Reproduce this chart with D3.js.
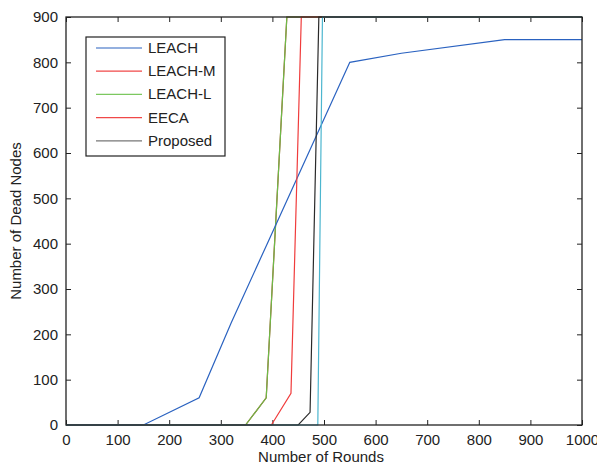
<!DOCTYPE html>
<html>
<head>
<meta charset="utf-8">
<script src="https://cdnjs.cloudflare.com/ajax/libs/d3/7.8.5/d3.min.js"></script>
<style>
  body { margin: 0; background: #fff; }
  svg { display: block; }
  text { font-family: "Liberation Sans", Arial, sans-serif; fill: #222; }
</style>
</head>
<body>
<svg width="597" height="466"></svg>
<script>
// data (rounds, dead nodes)
var leach    = [[0,0],[150,0],[258,60],[320,225],[390,400],[550,800],[650,820],[850,850],[1000,850]];
var leachM   = [[0,0],[348,0],[388,60],[428,900],[1000,900]];
var leachL   = [[0,0],[348,0],[388,60],[428,900],[1000,900]];
var eeca     = [[0,0],[398,0],[436,70],[456,900],[1000,900]];
var proposed = [[0,0],[450,0],[473,28],[490,900],[1000,900]];
var extra    = [[0,0],[488,0],[497,900],[1000,900]];   // cyan line, no legend entry

var xTicks = [0,100,200,300,400,500,600,700,800,900,1000];
var yTicks = [0,100,200,300,400,500,600,700,800,900];

var series = [
  {name: "LEACH-M",  data: leachM,   color: "#c0392b"},
  {name: "LEACH-L",  data: leachL,   color: "#6cbb48"},
  {name: "LEACH",    data: leach,    color: "#2a62c0"},
  {name: "EECA",     data: eeca,     color: "#f03c3c"},
  {name: "Proposed", data: proposed, color: "#2a2a2a"},
  {name: "",         data: extra,    color: "#4cb6cf"}
];
var legendItems = [
  {name: "LEACH",    color: "#2a62c0"},
  {name: "LEACH-M",  color: "#f04848"},
  {name: "LEACH-L",  color: "#7cc860"},
  {name: "EECA",     color: "#f04848"},
  {name: "Proposed", color: "#777"}
];

var svg = d3.select("svg");
var pLeft = 66, pRight = 582, pTop = 17, pBottom = 425;
var fs = "15px";

var x = d3.scaleLinear().domain([0, 1000]).range([pLeft, pRight]);
var y = d3.scaleLinear().domain([0, 900]).range([pBottom, pTop]);

svg.append("defs").append("clipPath").attr("id", "clip")
  .append("rect").attr("x", pLeft).attr("y", pTop - 1)
  .attr("width", pRight - pLeft).attr("height", pBottom - pTop + 2);

// axes, ticks inward
var tickLen = 5;
var fmt = d3.format("d");
var xb = svg.append("g").attr("transform", "translate(0," + pBottom + ")")
  .call(d3.axisBottom(x).tickValues(xTicks).tickFormat(fmt).tickSizeInner(-tickLen).tickSizeOuter(0).tickPadding(9));
var xt = svg.append("g").attr("transform", "translate(0," + pTop + ")")
  .call(d3.axisTop(x).tickValues(xTicks).tickSizeInner(-tickLen).tickSizeOuter(0).tickFormat(""));
var yl = svg.append("g").attr("transform", "translate(" + pLeft + ",0)")
  .call(d3.axisLeft(y).tickValues(yTicks).tickFormat(fmt).tickSizeInner(-tickLen).tickSizeOuter(0).tickPadding(8));
var yr = svg.append("g").attr("transform", "translate(" + pRight + ",0)")
  .call(d3.axisRight(y).tickValues(yTicks).tickSizeInner(-tickLen).tickSizeOuter(0).tickFormat(""));

[xb, xt, yl, yr].forEach(function(g) {
  g.select(".domain").remove();
  g.selectAll(".tick line").attr("stroke", "#222");
  g.selectAll("text").style("font-size", fs).attr("fill", "#222")
    .style("font-family", "'Liberation Sans', Arial, sans-serif");
});

// lines
var line = d3.line().x(function(d) { return x(d[0]); }).y(function(d) { return y(d[1]); });
svg.append("g").attr("clip-path", "url(#clip)")
  .selectAll("path")
  .data(series)
  .enter()
  .append("path")
  .attr("d", function(d) { return line(d.data); })
  .attr("fill", "none")
  .attr("stroke", function(d) { return d.color; })
  .attr("stroke-width", 1.2);

// frame
svg.append("rect")
  .attr("x", pLeft).attr("y", pTop)
  .attr("width", pRight - pLeft).attr("height", pBottom - pTop)
  .attr("fill", "none").attr("stroke", "#222").attr("stroke-width", 1.3);

// axis titles
svg.append("text")
  .attr("x", (pLeft + pRight) / 2 - 3).attr("y", 462)
  .attr("text-anchor", "middle").style("font-size", fs)
  .text("Number of Rounds");
svg.append("text")
  .attr("transform", "translate(21," + ((pTop + pBottom) / 2) + ") rotate(-90)")
  .attr("text-anchor", "middle").style("font-size", fs)
  .text("Number of Dead Nodes");

// legend
var lg = svg.append("g");
lg.append("rect")
  .attr("x", 86).attr("y", 37).attr("width", 139).attr("height", 119)
  .attr("fill", "#fff").attr("stroke", "#222").attr("stroke-width", 1.2);
var li = lg.selectAll(".item")
  .data(legendItems)
  .enter()
  .append("g")
  .attr("class", "item")
  .attr("transform", function(d, i) { return "translate(0," + (48 + i * 23.2) + ")"; });
li.append("line")
  .attr("x1", 96).attr("x2", 142).attr("y1", 0).attr("y2", 0)
  .attr("stroke", function(d) { return d.color; }).attr("stroke-width", 1.2);
li.append("text")
  .attr("x", 148).attr("y", 5)
  .style("font-size", fs)
  .text(function(d) { return d.name; });
</script>
</body>
</html>
